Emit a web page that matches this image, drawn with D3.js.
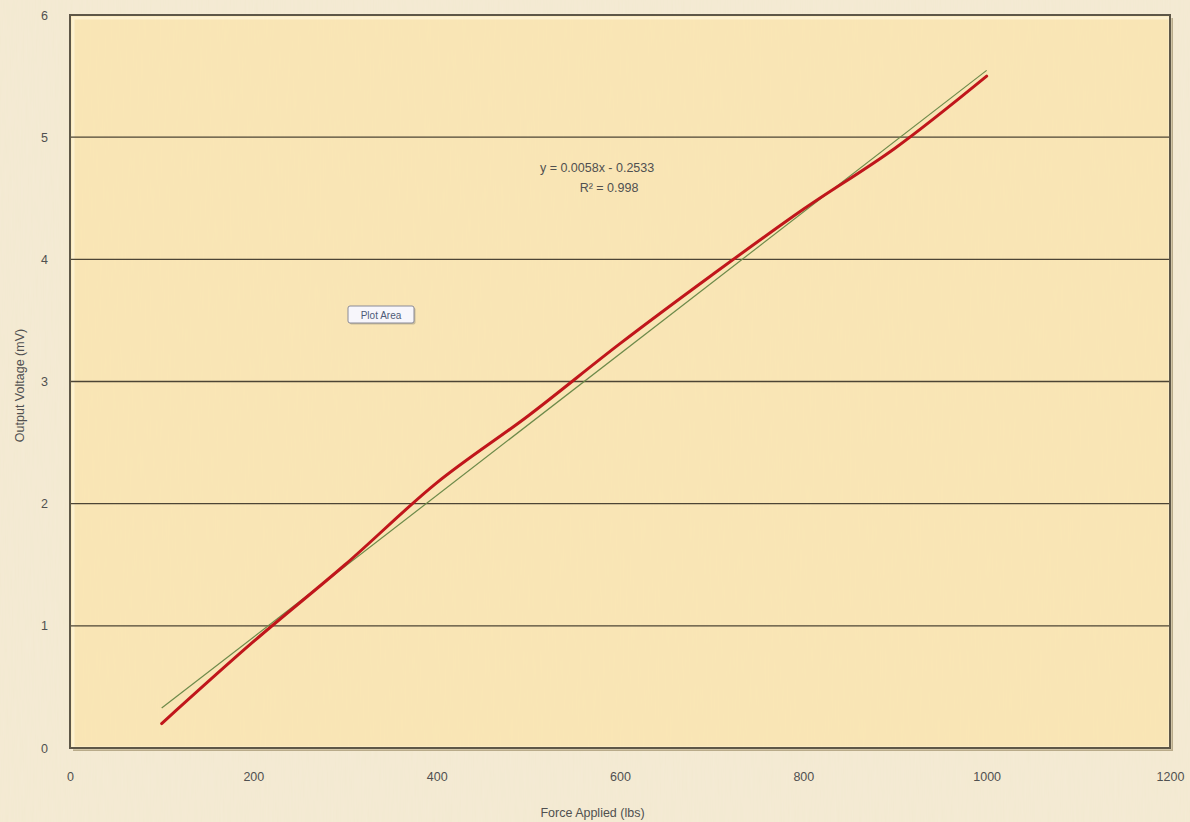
<!DOCTYPE html>
<html>
<head>
<meta charset="utf-8">
<script src="https://cdn.jsdelivr.net/npm/d3@7"></script>
<style>
  body { margin: 0; background: #f4ebd5; }
  svg { display: block; }
  text { font-family: "Liberation Sans", Arial, sans-serif; fill: #505050; }
</style>
</head>
<body>
<svg id="chart" width="1190" height="822"></svg>
<script>
// force applied (lbs) vs output voltage (mV)
var force = [100, 200, 300, 400, 500, 600, 700, 800, 900, 1000];
var voltage = [0.2, 0.87, 1.5, 2.17, 2.72, 3.31, 3.87, 4.41, 4.91, 5.5];

// linear trendline as reported by the chart
var trendSlope = 0.0058,
    trendIntercept = -0.2533;
var trendLabel = ["y = 0.0058x - 0.2533", "R\u00b2 = 0.998"];

var xTicks = [0, 200, 400, 600, 800, 1000, 1200];
var yTicks = [0, 1, 2, 3, 4, 5, 6];

var margin = {top: 15, right: 20, bottom: 74, left: 70},
    width = 1190 - margin.left - margin.right,
    height = 822 - margin.top - margin.bottom;

var svg = d3.select('#chart');

// parchment-ish texture
var defs = svg.append('defs');
var noise = defs.append('filter').attr('id', 'grain')
    .attr('x', 0).attr('y', 0).attr('width', '100%').attr('height', '100%');
noise.append('feTurbulence')
    .attr('type', 'fractalNoise')
    .attr('baseFrequency', '0.6 0.03')
    .attr('numOctaves', 2)
    .attr('seed', 3)
    .attr('result', 'n');
noise.append('feColorMatrix')
    .attr('type', 'matrix')
    .attr('values', '0 0 0 0 0.85  0 0 0 0 0.72  0 0 0 0 0.45  0 0 0 0.14 0');

svg.append('rect').attr('width', 1190).attr('height', 822).attr('fill', '#f4ebd5');
svg.append('rect').attr('width', 1190).attr('height', 822).attr('filter', 'url(#grain)');

var g = svg.append('g')
    .attr('transform', 'translate(' + margin.left + ',' + margin.top + ')');

var x = d3.scaleLinear().domain([0, 1200]).range([0, width]);
var y = d3.scaleLinear().domain([0, 6]).range([height, 0]);

// plot area
g.append('rect')
    .attr('x', 3).attr('y', 3)
    .attr('width', width).attr('height', height)
    .attr('fill', '#b9ab8a');
g.append('rect')
    .attr('width', width).attr('height', height)
    .attr('fill', '#fae6b5');
g.append('rect')
    .attr('width', width).attr('height', height)
    .attr('filter', 'url(#grain)');
g.append('rect')
    .attr('x', 3).attr('y', 3)
    .attr('width', width - 3).attr('height', height - 3)
    .attr('fill', 'none')
    .attr('stroke', '#fff6dc')
    .attr('stroke-width', 3)
    .attr('opacity', 0.7);

// gridlines
g.selectAll('.grid')
    .data(yTicks.filter(function(d) { return d > 0 && d < 6; }))
  .enter().append('line')
    .attr('class', 'grid')
    .attr('x1', 0).attr('x2', width)
    .attr('y1', function(d) { return y(d); })
    .attr('y2', function(d) { return y(d); })
    .attr('stroke', '#4d4535')
    .attr('stroke-width', 1.3);

g.append('rect')
    .attr('width', width).attr('height', height)
    .attr('fill', 'none')
    .attr('stroke', '#5e5747')
    .attr('stroke-width', 2);

// axes (labels only, Excel style)
var xAxis = g.append('g')
    .attr('transform', 'translate(0,' + height + ')')
    .call(d3.axisBottom(x).tickValues(xTicks).tickFormat(d3.format('d'))
      .tickSize(0).tickPadding(24));
xAxis.select('.domain').remove();
xAxis.selectAll('text')
    .attr('font-size', 12.5)
    .attr('font-family', '"Liberation Sans", Arial, sans-serif')
    .attr('fill', '#505050');

var yAxis = g.append('g')
    .call(d3.axisLeft(y).tickValues(yTicks).tickFormat(d3.format('d'))
      .tickSize(0).tickPadding(22));
yAxis.select('.domain').remove();
yAxis.selectAll('text')
    .attr('font-size', 12.5)
    .attr('font-family', '"Liberation Sans", Arial, sans-serif')
    .attr('fill', '#505050');

// trendline
var xMin = d3.min(force), xMax = d3.max(force);
g.append('line')
    .attr('x1', x(xMin)).attr('y1', y(trendSlope * xMin + trendIntercept))
    .attr('x2', x(xMax)).attr('y2', y(trendSlope * xMax + trendIntercept))
    .attr('stroke', '#6d8a4a')
    .attr('stroke-width', 1.2);

// data line, smoothed
var line = d3.line()
    .x(function(d, i) { return x(force[i]); })
    .y(function(d) { return y(d); })
    .curve(d3.curveCatmullRom.alpha(0.5));

g.append('path')
    .datum(voltage)
    .attr('d', line)
    .attr('fill', 'none')
    .attr('stroke', '#c0161b')
    .attr('stroke-width', 3)
    .attr('stroke-linecap', 'round');

// trendline equation
g.append('text')
    .attr('x', x(575)).attr('y', y(5) + 35)
    .attr('text-anchor', 'middle')
    .attr('font-size', 12.5)
    .text(trendLabel[0]);
g.append('text')
    .attr('x', x(588)).attr('y', y(5) + 55)
    .attr('text-anchor', 'middle')
    .attr('font-size', 12.5)
    .text(trendLabel[1]);

// "Plot Area" tooltip
var tip = g.append('g').attr('transform', 'translate(278,291)');
tip.append('rect')
    .attr('x', 1.5).attr('y', 1.5)
    .attr('width', 66).attr('height', 17).attr('rx', 2)
    .attr('fill', '#a8a08a').attr('opacity', 0.6);
tip.append('rect')
    .attr('width', 66).attr('height', 17).attr('rx', 2)
    .attr('fill', '#f7f6fb')
    .attr('stroke', '#8a8a96');
tip.append('text')
    .attr('x', 33).attr('y', 12.5)
    .attr('text-anchor', 'middle')
    .attr('font-size', 10)
    .style('fill', '#4e5a78')
    .text('Plot Area');

// axis titles
svg.append('text')
    .attr('transform', 'translate(24,' + (margin.top + height / 2 + 4) + ') rotate(-90)')
    .attr('text-anchor', 'middle')
    .attr('font-size', 12.5)
    .text('Output Voltage (mV)');
svg.append('text')
    .attr('x', margin.left + x(570)).attr('y', 817)
    .attr('text-anchor', 'middle')
    .attr('font-size', 12.5)
    .text('Force Applied (lbs)');
</script>
</body>
</html>
